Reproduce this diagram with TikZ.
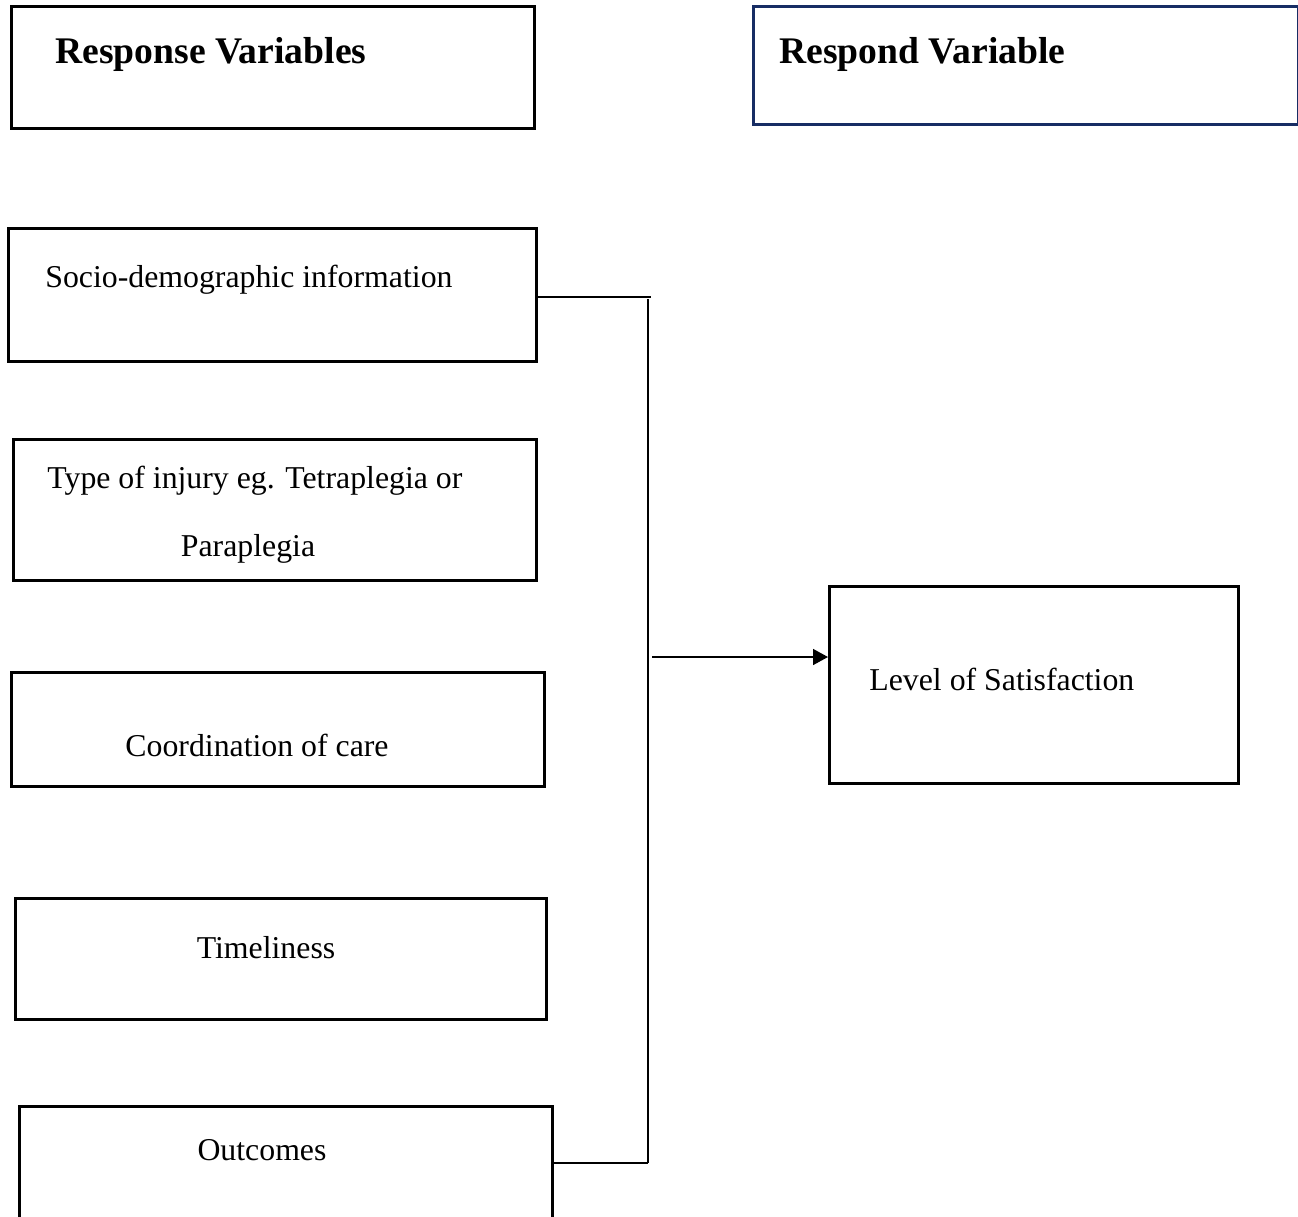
\documentclass[tikz,border=0pt]{standalone}
\usepackage{fontspec}
\setmainfont{Liberation Serif}
\usepackage{xcolor}
\usetikzlibrary{arrows.meta,positioning}
\definecolor{headblue}{RGB}{23,45,100}
\tikzset{
  varbox/.style={
    rectangle, draw, line width=1.3pt, inner sep=0pt, anchor=north west
  },
  vartext/.style={font=\fontsize{15.9}{19}\selectfont, inner sep=0pt},
  headtext/.style={font=\fontsize{18.8}{22}\selectfont\bfseries, inner sep=0pt},
  link/.style={line width=0.8pt, black},
  arrow/.style={-{Triangle[length=7.5pt,width=8pt]}, line width=0.8pt, black},
}

\begin{document}
\begin{tikzpicture}[x=0.5pt, y=-0.5pt]
  \useasboundingbox (0,0) rectangle (1298,1217);

  % Headers
  \node[varbox, minimum width=261.5pt, minimum height=61pt] (resphead) at (10,5) {};
  \node[varbox, draw=headblue, minimum width=272.5pt, minimum height=59pt] (outhead) at (752,5) {};
  \node[headtext, anchor=base west] (resptitle) at (55,63) {Response Variables};
  \node[headtext, anchor=base west] (outtitle) at (779,63) {Respond Variable};

  % Nodes
  \node[varbox, minimum width=264pt, minimum height=66.5pt] (socio) at (7,227) {};
  \node[varbox, minimum width=261.5pt, minimum height=70.5pt] (injury) at (12,438) {};
  \node[varbox, minimum width=266.5pt, minimum height=57pt] (coord) at (10,671) {};
  \node[varbox, minimum width=265.5pt, minimum height=60.5pt] (time) at (14,897) {};
  \node[varbox, minimum width=266.5pt, minimum height=64pt] (outcome) at (18,1105) {};
  \node[varbox, minimum width=204.5pt, minimum height=98.5pt] (level) at (828,585) {};

  % Texts
  \node[vartext, anchor=base west] (sociotext) at (45,287) {Socio-demographic information};
  \node[vartext, anchor=base west] (injurytext) at (47,488) {Type of injury eg. Tetraplegia or};
  \node[vartext, anchor=base] (injurytextb) at (248,556) {Paraplegia};
  \node[vartext, anchor=base] (coordtext) at (257,756) {Coordination of care};
  \node[vartext, anchor=base] (timetext) at (266,958) {Timeliness};
  \node[vartext, anchor=base] (outcometext) at (262,1160) {Outcomes};
  \node[vartext, anchor=base west] (leveltext) at (869,690) {Level of Satisfaction};

  % Connectors
  \coordinate (socioend) at (651,297);
  \coordinate (bustop) at (648,299);
  \coordinate (busbot) at (648,1163);
  \coordinate (busmid) at (652,657);
  \draw[link] (socio.east |- socioend) -- (socioend);
  \draw[link] (bustop) -- (busbot);
  \draw[link] (outcome.east |- busbot) -- (busbot);
  \draw[arrow] (busmid) -- (level.west |- busmid);
\end{tikzpicture}
\end{document}
